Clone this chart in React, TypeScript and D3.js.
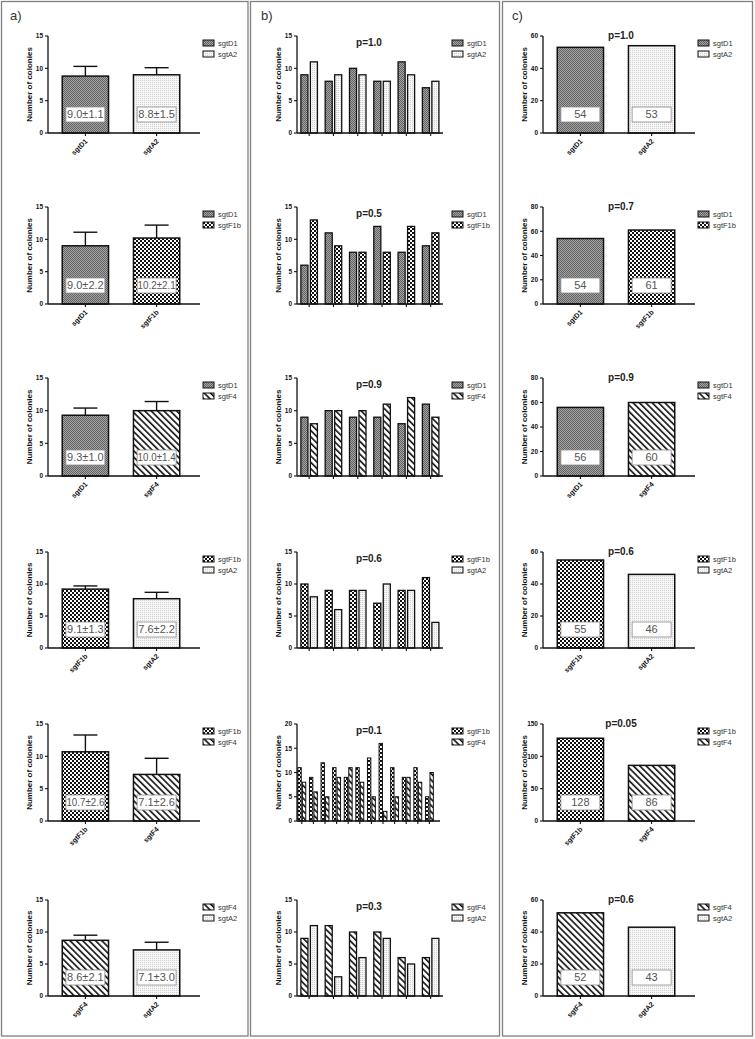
import * as d3 from 'd3';

// series shown in each row (same for all three columns)
const ROW_SERIES = [
  ['sgtD1', 'sgtA2'],
  ['sgtD1', 'sgtF1b'],
  ['sgtD1', 'sgtF4'],
  ['sgtF1b', 'sgtA2'],
  ['sgtF1b', 'sgtF4'],
  ['sgtF4', 'sgtA2'],
];

// a) mean bars + upper error
const MEANS = [[8.8, 9.0], [9.0, 10.2], [9.3, 10.0], [9.2, 7.7], [10.7, 7.2], [8.7, 7.2]];
const ERRS = [[1.5, 1.1], [2.1, 2.0], [1.1, 1.4], [0.5, 1.0], [2.6, 2.5], [0.8, 1.2]];
const MEAN_LABELS = [
  ['9.0±1.1', '8.8±1.5'],
  ['9.0±2.2', '10.2±2.1'],
  ['9.3±1.0', '10.0±1.4'],
  ['9.1±1.3', '7.6±2.2'],
  ['10.7±2.6', '7.1±2.6'],
  ['8.6±2.1', '7.1±3.0'],
];

// b) replicate pairs
const REPLICATES = [
  [[9, 11], [8, 9], [10, 9], [8, 8], [11, 9], [7, 8]],
  [[6, 13], [11, 9], [8, 8], [12, 8], [8, 12], [9, 11]],
  [[9, 8], [10, 10], [9, 10], [9, 11], [8, 12], [11, 9]],
  [[10, 8], [9, 6], [9, 9], [7, 10], [9, 9], [11, 4]],
  [[11, 8], [9, 6], [12, 5], [11, 9], [9, 11], [11, 8], [13, 5], [16, 2], [11, 5], [9, 9], [11, 8], [5, 10]],
  [[9, 11], [11, 3], [10, 6], [10, 9], [6, 5], [6, 9]],
];
const P_REP = ['p=1.0', 'p=0.5', 'p=0.9', 'p=0.6', 'p=0.1', 'p=0.3'];
const MAX_B = [15, 15, 15, 15, 20, 15];

// c) totals
const TOTALS = [[53, 54], [54, 61], [56, 60], [55, 46], [128, 86], [52, 43]];
const TOTAL_LABELS = [['54', '53'], ['54', '61'], ['56', '60'], ['55', '46'], ['128', '86'], ['52', '43']];
const P_TOT = ['p=1.0', 'p=0.7', 'p=0.9', 'p=0.6', 'p=0.05', 'p=0.6'];
const MAX_C = [60, 80, 80, 60, 150, 60];
const MAX_A = 15;

const W = 755;
const H = 1039;
const FONT = 'Liberation Sans, Arial, Helvetica, sans-serif';
const ROW_TOP = [36, 207, 378, 552, 724, 900];
const ROW_BASE = [133, 304, 476, 648, 821, 996];
const AX_X = [48, 297, 543];
const fillOf = (s: string) => `url(#p-${s})`;

function Patterns() {
  return (
    <defs>
      <pattern id="p-sgtD1" width="2" height="2" patternUnits="userSpaceOnUse">
        <rect width="2" height="2" fill="#a4a4a4" />
        <rect width="1" height="1" fill="#626262" />
        <rect x="1" y="1" width="1" height="1" fill="#626262" />
      </pattern>
      <pattern id="p-sgtA2" width="2" height="2" patternUnits="userSpaceOnUse">
        <rect width="2" height="2" fill="#f7f7f7" />
        <rect width="1" height="1" fill="#cfcfcf" />
      </pattern>
      <pattern id="p-sgtF1b" width="4" height="4" patternUnits="userSpaceOnUse">
        <rect width="4" height="4" fill="#fff" />
        <rect width="2" height="2" fill="#111" />
        <rect x="2" y="2" width="2" height="2" fill="#111" />
      </pattern>
      <pattern id="p-sgtF4" width="4.5" height="4.5" patternUnits="userSpaceOnUse" patternTransform="rotate(-45)">
        <rect width="4.5" height="4.5" fill="#fff" />
        <rect width="1.6" height="4.5" fill="#111" />
      </pattern>
    </defs>
  );
}

function YAxis({ x0, y, ticks }: { x0: number; y: d3.ScaleLinear<number, number>; ticks: number[] }) {
  const [b, t] = y.range();
  return (
    <g>
      <line x1={x0} x2={x0} y1={b} y2={t} stroke="#111" strokeWidth={1.3} />
      {ticks.map((v) => (
        <g key={v}>
          <line x1={x0 - 3} x2={x0} y1={y(v)} y2={y(v)} stroke="#111" strokeWidth={1.1} />
          <text x={x0 - 5} y={y(v)} dy="0.35em" textAnchor="end" fontSize={6.5} fontWeight="bold" fill="#111">
            {v}
          </text>
        </g>
      ))}
      <text
        transform={`translate(${x0 - 19},${(b + t) / 2}) rotate(-90)`}
        textAnchor="middle"
        dy="0.35em"
        fontSize={8}
        fontWeight="bold"
        fill="#111"
      >
        Number of colonies
      </text>
    </g>
  );
}

function Legend({ x, top, series }: { x: number; top: number; series: string[] }) {
  return (
    <g>
      {series.map((s, i) => (
        <g key={s} transform={`translate(${x},${top + 4 + i * 11})`}>
          <rect width={11} height={6} fill={fillOf(s)} stroke="#111" strokeWidth={1} />
          <text x={15} y={3} dy="0.35em" fontSize={7.5} fill="#333">
            {s}
          </text>
        </g>
      ))}
    </g>
  );
}

function ValueBox({ cx, base, label }: { cx: number; base: number; label: string }) {
  const long = label.length > 7;
  return (
    <g>
      <rect x={cx - 19.5} y={base - 26} width={39} height={15} fill="#fff" stroke="#8a8a8a" strokeWidth={0.8} />
      <text
        x={cx}
        y={base - 18.5}
        dy="0.36em"
        textAnchor="middle"
        fontSize={11}
        fill="#555"
        textLength={long ? 38 : undefined}
        lengthAdjust={long ? 'spacingAndGlyphs' : undefined}
      >
        {label}
      </text>
    </g>
  );
}

function TwoBarPanel({ row, col }: { row: number; col: 'a' | 'c' }) {
  const x0 = col === 'a' ? AX_X[0] : AX_X[2];
  const series = ROW_SERIES[row];
  const max = col === 'a' ? MAX_A : MAX_C[row];
  const vals = col === 'a' ? MEANS[row] : TOTALS[row];
  const labels = col === 'a' ? MEAN_LABELS[row] : TOTAL_LABELS[row];
  const y = d3.scaleLinear().domain([0, max]).range([ROW_BASE[row], ROW_TOP[row]]);
  const x = d3.scaleBand<string>().domain(series).range([x0, x0 + 146]).paddingInner(0.35).paddingOuter(0.2);
  const ticks = d3.range(0, max + 0.001, max === 15 ? 5 : max === 150 ? 50 : 20);
  const base = ROW_BASE[row];
  return (
    <g>
      {series.map((s, i) => {
        const bx = x(s)!;
        const cx = bx + x.bandwidth() / 2;
        return (
          <g key={s}>
            <rect x={bx} y={y(vals[i])} width={x.bandwidth()} height={base - y(vals[i])} fill={fillOf(s)} stroke="#111" strokeWidth={1.5} />
            {col === 'a' && (
              <g stroke="#111" strokeWidth={1.4}>
                <line x1={cx} x2={cx} y1={y(vals[i])} y2={y(vals[i] + ERRS[row][i])} />
                <line x1={cx - 12} x2={cx + 12} y1={y(vals[i] + ERRS[row][i])} y2={y(vals[i] + ERRS[row][i])} />
              </g>
            )}
            <ValueBox cx={cx} base={base} label={labels[i]} />
            <line x1={cx} x2={cx} y1={base} y2={base + 3} stroke="#111" strokeWidth={1.1} />
            <text
              transform={`translate(${cx + 1},${base + 7}) rotate(-45)`}
              textAnchor="end"
              dy="0.35em"
              fontSize={7}
              fontWeight="bold"
              fill="#111"
            >
              {s}
            </text>
          </g>
        );
      })}
      <line x1={x0} x2={x0 + 152} y1={base} y2={base} stroke="#111" strokeWidth={1.3} />
      <YAxis x0={x0} y={y} ticks={ticks} />
      {col === 'c' && (
        <text x={x0 + 78} y={ROW_TOP[row] - 1} dy="0.35em" textAnchor="middle" fontSize={10} fontWeight="bold" fill="#222">
          {P_TOT[row]}
        </text>
      )}
      <Legend x={x0 + 155} top={ROW_TOP[row]} series={series} />
    </g>
  );
}

function ReplicatePanel({ row }: { row: number }) {
  const x0 = AX_X[1];
  const data = REPLICATES[row];
  const series = ROW_SERIES[row];
  const n = data.length;
  const axisLen = n > 6 ? 143 : 146;
  const step = n > 6 ? 11.6 : 24.3;
  const start = n > 6 ? x0 - 1 : x0;
  const x = d3.scaleBand<number>().domain(d3.range(n)).range([start, start + step * n]);
  const y = d3.scaleLinear().domain([0, MAX_B[row]]).range([ROW_BASE[row], ROW_TOP[row]]);
  const base = ROW_BASE[row];
  const bw = step * 0.29;
  const gap = step * 0.1;
  return (
    <g>
      {data.map((pair, g) => {
        const cx = x(g)! + x.bandwidth() / 2;
        return (
          <g key={g}>
            {pair.map((v, i) => (
              <rect
                key={i}
                x={i === 0 ? cx - gap / 2 - bw : cx + gap / 2}
                y={y(v)}
                width={bw}
                height={base - y(v)}
                fill={fillOf(series[i])}
                stroke="#111"
                strokeWidth={n > 6 ? 1 : 1.3}
              />
            ))}
            <line x1={cx} x2={cx} y1={base} y2={base + 3} stroke="#111" strokeWidth={1.1} />
          </g>
        );
      })}
      <line x1={x0} x2={x0 + axisLen} y1={base} y2={base} stroke="#111" strokeWidth={1.3} />
      <YAxis x0={x0} y={y} ticks={d3.range(0, MAX_B[row] + 0.001, 5)} />
      <text x={x0 + 72} y={ROW_TOP[row] + 6} dy="0.35em" textAnchor="middle" fontSize={10} fontWeight="bold" fill="#222">
        {P_REP[row]}
      </text>
      <Legend x={x0 + 155} top={ROW_TOP[row]} series={series} />
    </g>
  );
}

export default function App() {
  return (
    <div style={{ position: 'absolute', left: 0, top: 0 }}>
      <svg width={W} height={H} fontFamily={FONT} style={{ display: 'block', background: '#fff' }}>
        <Patterns />
        <rect x={1.5} y={1.5} width={246.5} height={1034.5} fill="none" stroke="#808080" strokeWidth={1.3} />
        <rect x={250.5} y={1.5} width={249} height={1034.5} fill="none" stroke="#808080" strokeWidth={1.3} />
        <rect x={502.5} y={1.5} width={250} height={1034.5} fill="none" stroke="#808080" strokeWidth={1.3} />
        <text x={10} y={20} fontSize={13} fill="#333">a)</text>
        <text x={261} y={20} fontSize={13} fill="#333">b)</text>
        <text x={512} y={20} fontSize={13} fill="#333">c)</text>
        {ROW_SERIES.map((_, r) => (
          <g key={r}>
            <TwoBarPanel row={r} col="a" />
            <ReplicatePanel row={r} />
            <TwoBarPanel row={r} col="c" />
          </g>
        ))}
      </svg>
    </div>
  );
}
